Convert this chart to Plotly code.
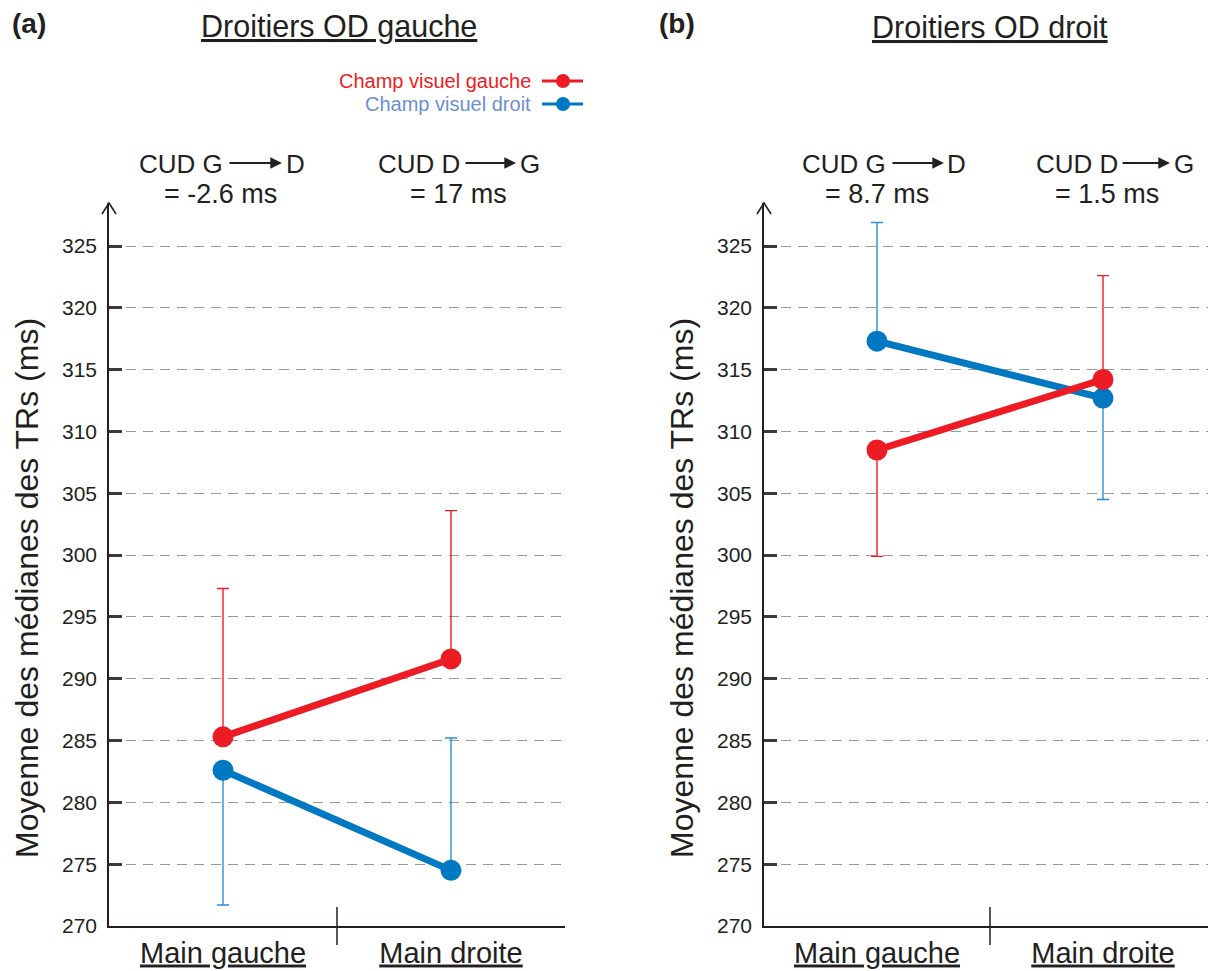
import plotly.graph_objects as go

# The page body has an 8px margin, so the figure is drawn 8px in from the window corner.
OFF = 8
W, H = 1216 - OFF, 971 - OFF

categories = ["Main gauche", "Main droite"]
y_ticks = [270, 275, 280, 285, 290, 295, 300, 305, 310, 315, 320, 325]

# Panel (a) Droitiers OD gauche
a_red = [285.3, 291.6]
a_red_plus = [12.0, 12.0]
a_red_minus = [0.0, 0.0]
a_blue = [282.6, 274.5]
a_blue_plus = [0.0, 10.7]
a_blue_minus = [10.9, 0.0]

# Panel (b) Droitiers OD droit
b_red = [308.5, 314.2]
b_red_plus = [0.0, 8.4]
b_red_minus = [8.6, 0.0]
b_blue = [317.3, 312.7]
b_blue_plus = [9.6, 0.0]
b_blue_minus = [0.0, 8.2]

panel_titles = ["Droitiers OD gauche", "Droitiers OD droit"]
panel_letters = ["(a)", "(b)"]
cud_labels = [["CUD G", "D", "= -2.6 ms"], ["CUD D", "G", "= 17 ms"],
              ["CUD G", "D", "= 8.7 ms"], ["CUD D", "G", "= 1.5 ms"]]
legend_names = ["Champ visuel gauche", "Champ visuel droit"]

RED = "#ED1C24"
BLUE = "#0079C2"
BLUE_ERR = "#2A8FD8"
BLUE_TXT = "#6D8FCD"
INK = "#231F20"
GRID = "#9A9A9A"
FONT = "Liberation Sans, Arial, sans-serif"


def px(x):
    return (x - OFF) / W


def py(y):
    return 1 - (y - OFF) / H


fig = go.Figure()


def add_series(xa, ya, vals, plus, minus, color, ecolor, name):
    fig.add_trace(go.Scatter(
        x=categories, y=vals, name=name, mode="lines+markers",
        xaxis=xa, yaxis=ya, showlegend=False,
        line=dict(color=color, width=7),
        marker=dict(color=color, size=21),
        error_y=dict(type="data", symmetric=False, array=plus, arrayminus=minus,
                     color=ecolor, thickness=1.4, width=6),
    ))


add_series("x", "y", a_blue, a_blue_plus, a_blue_minus, BLUE, BLUE_ERR, legend_names[1])
add_series("x", "y", a_red, a_red_plus, a_red_minus, RED, RED, legend_names[0])
add_series("x2", "y2", b_blue, b_blue_plus, b_blue_minus, BLUE, BLUE_ERR, legend_names[1])
add_series("x2", "y2", b_red, b_red_plus, b_red_minus, RED, RED, legend_names[0])

top_px, bot_px = 203, 926
ydom = [py(bot_px), py(top_px)]
yrange = [270, 270 + (bot_px - top_px) / ((926 - 246) / 55.0)]

yaxis_common = dict(
    range=yrange, domain=ydom, tickvals=y_ticks, ticktext=[str(v) for v in y_ticks],
    showline=True, linecolor=INK, linewidth=1.5,
    ticks="inside", ticklen=13, tickwidth=2.5, tickcolor="#3A3A3A",
    showgrid=True, gridcolor=GRID, gridwidth=1.4, griddash="10px,7px",
    zeroline=False, tickfont=dict(family=FONT, size=21, color=INK),
    ticklabelstandoff=6, fixedrange=True, automargin=False,
)
xaxis_common = dict(
    type="category", range=[-0.5, 1.5], showline=True, linecolor=INK, linewidth=1.5,
    showgrid=False, zeroline=False, ticks="",
    tickfont=dict(family=FONT, size=29, color=INK, lineposition="under"),
    ticklabelstandoff=0, fixedrange=True, automargin=False,
)

fig.update_layout(
    width=W, height=H, margin=dict(l=0, r=0, t=0, b=0, autoexpand=False),
    paper_bgcolor="white", plot_bgcolor="white", showlegend=False,
    xaxis=dict(domain=[px(109), px(565)], anchor="y", **xaxis_common),
    yaxis=dict(anchor="x", **yaxis_common),
    xaxis2=dict(domain=[px(764), 1.0], anchor="y2", **xaxis_common),
    yaxis2=dict(anchor="x2", **yaxis_common),
)

ann = []
shapes = []


def text(t, x, y, size, color=INK, xanchor="center", **kw):
    d = dict(text=t, x=px(x), y=py(y), xref="paper", yref="paper", xanchor=xanchor,
             yanchor="middle", showarrow=False, font=dict(family=FONT, size=size, color=color))
    d["font"].update(kw.pop("font_extra", {}))
    d.update(kw)
    ann.append(d)


# Panel letters and titles
for letter, lx in zip(panel_letters, [29, 677]):
    text("<b>%s</b>" % letter, lx, 24, 28)
for title, tx in zip(panel_titles, [339, 990]):
    text(title, tx, 27, 30.5, font_extra=dict(lineposition="under"))

# Y-axis titles
for tx in [27, 682]:
    text("Moyenne des médianes des TRs (ms)", tx, 588, 32, textangle=-90)

# CUD annotations
cud_pos = [(225, 228, 282, 284, 220), (462, 464, 516, 518, 458),
           (888, 891, 944, 945, 877), (1120, 1121, 1170, 1172, 1107)]
for (p1, p2, l2), (xr, a0, a1, xl, xc) in zip(cud_labels, cud_pos):
    text(p1, xr, 164, 26, xanchor="right")
    text(p2, xl, 164, 26, xanchor="left")
    text(l2, xc, 194, 27)
    ann.append(dict(text="", x=px(a1), y=py(163), xref="paper", yref="paper",
                    ax=-(a1 - a0), ay=0, showarrow=True, arrowhead=2, arrowsize=1.3,
                    arrowwidth=1.8, arrowcolor=INK, standoff=0, startstandoff=0))

# Custom legend (text on the left, symbol on the right)
for name, col, tcol, ly in [(legend_names[0], RED, RED, 81), (legend_names[1], BLUE, BLUE_TXT, 104)]:
    text(name, 533, ly, 20, color=tcol, xanchor="right")
    shapes.append(dict(type="line", xref="paper", yref="paper", x0=px(542), x1=px(583),
                       y0=py(ly), y1=py(ly), line=dict(color=col, width=3)))
    shapes.append(dict(type="circle", xref="paper", yref="paper", x0=px(556), x1=px(570),
                       y0=py(ly + 7), y1=py(ly - 7), fillcolor=col, line=dict(color=col, width=0)))

# Divider ticks between categories and arrowheads on y axes
for xr, yr in [("x", "y"), ("x2", "y2")]:
    shapes.append(dict(type="line", xref=xr, yref=yr + " domain", x0=0.5, x1=0.5,
                       y0=-19 / (bot_px - top_px), y1=19 / (bot_px - top_px),
                       line=dict(color=INK, width=1.5)))
    shapes.append(dict(type="path", xref=xr + " domain", yref=yr + " domain",
                       xsizemode="pixel", ysizemode="pixel", xanchor=0, yanchor=1,
                       path="M -7,-11 L 0,0 L 7,-11", line=dict(color=INK, width=1.6)))

fig.update_layout(annotations=ann, shapes=shapes)

fig.write_html("out.html")
